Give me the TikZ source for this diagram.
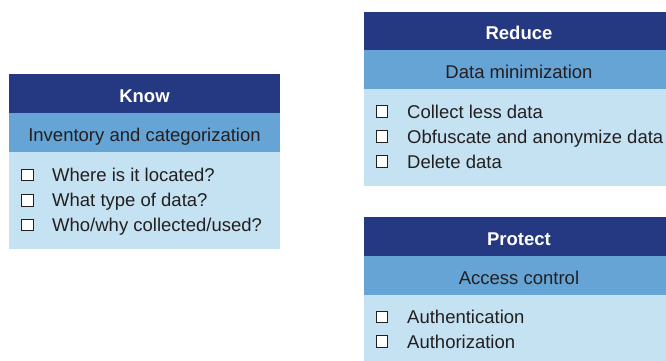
\documentclass[tikz,border=0pt]{standalone}
\usepackage{fontspec}
\setmainfont{Liberation Sans}
\definecolor{navy}{RGB}{37,56,130}
\definecolor{midblue}{RGB}{102,164,213}
\definecolor{paleblue}{RGB}{197,226,242}
\definecolor{ink}{RGB}{35,31,32}
\tikzset{
  band/.style={anchor=north west, inner sep=0pt, outer sep=0pt, minimum height=39pt},
  headband/.style={band, fill=navy},
  subband/.style={band, fill=midblue},
  bodyband/.style={band, fill=paleblue},
  headtext/.style={anchor=base, inner sep=0pt, text=white, font=\fontsize{18.5}{22}\selectfont\bfseries},
  subtext/.style={anchor=base, inner sep=0pt, text=ink, font=\fontsize{18.5}{22}\selectfont},
  itemtext/.style={anchor=base west, inner sep=0pt, text=ink, font=\fontsize{18.5}{22}\selectfont},
  tick/.style={draw=ink, fill=white, line width=1.2pt, inner sep=0pt, minimum size=11.5pt}
}
\begin{document}
\begin{tikzpicture}[x=1pt, y=-1pt]
\useasboundingbox (0,0) rectangle (666,360);
\begin{scope}
\clip (0,0) rectangle (666,360);

% Know panel
\node[headband, minimum width=271pt] (knowH) at (9,74) {};
\node[subband, minimum width=271pt] (knowS) at (9,113) {};
\node[bodyband, minimum width=271pt, minimum height=97pt] (knowB) at (9,152) {};
\node[headtext] (knowT) at (144.5,102.3) {Know};
\node[subtext] (knowST) at (144.5,141.7) {Inventory and categorization};
\node[tick] (k1) at (27.5,175) {};
\node[tick] (k2) at (27.5,200.5) {};
\node[tick] (k3) at (27.5,225) {};
\node[itemtext] (k1t) at (52,181.7) {Where is it located?};
\node[itemtext] (k2t) at (52,206.5) {What type of data?};
\node[itemtext] (k3t) at (52,231.3) {Who/why collected/used?};

% Reduce panel
\node[headband, minimum width=302pt] (redH) at (364,12) {};
\node[subband, minimum width=302pt] (redS) at (364,50) {};
\node[bodyband, minimum width=302pt, minimum height=97pt] (redB) at (364,89) {};
\node[headtext] (redT) at (519,39) {Reduce};
\node[subtext] (redST) at (519,78.3) {Data minimization};
\node[tick] (r1) at (382,111.5) {};
\node[tick] (r2) at (382,136.5) {};
\node[tick] (r3) at (382,161.5) {};
\node[itemtext] (r1t) at (407,118.3) {Collect less data};
\node[itemtext] (r2t) at (407,143.3) {Obfuscate and anonymize data};
\node[itemtext] (r3t) at (407,168.3) {Delete data};

% Protect panel
\node[headband, minimum width=302pt] (proH) at (364,217) {};
\node[subband, minimum width=302pt] (proS) at (364,256) {};
\node[bodyband, minimum width=302pt, minimum height=70pt] (proB) at (364,295) {};
\node[headtext] (proT) at (519,245) {Protect};
\node[subtext] (proST) at (519,284) {Access control};
\node[tick] (p1) at (382,317) {};
\node[tick] (p2) at (382,341.5) {};
\node[itemtext] (p1t) at (407,323.5) {Authentication};
\node[itemtext] (p2t) at (407,348.3) {Authorization};
\end{scope}
\end{tikzpicture}
\end{document}
